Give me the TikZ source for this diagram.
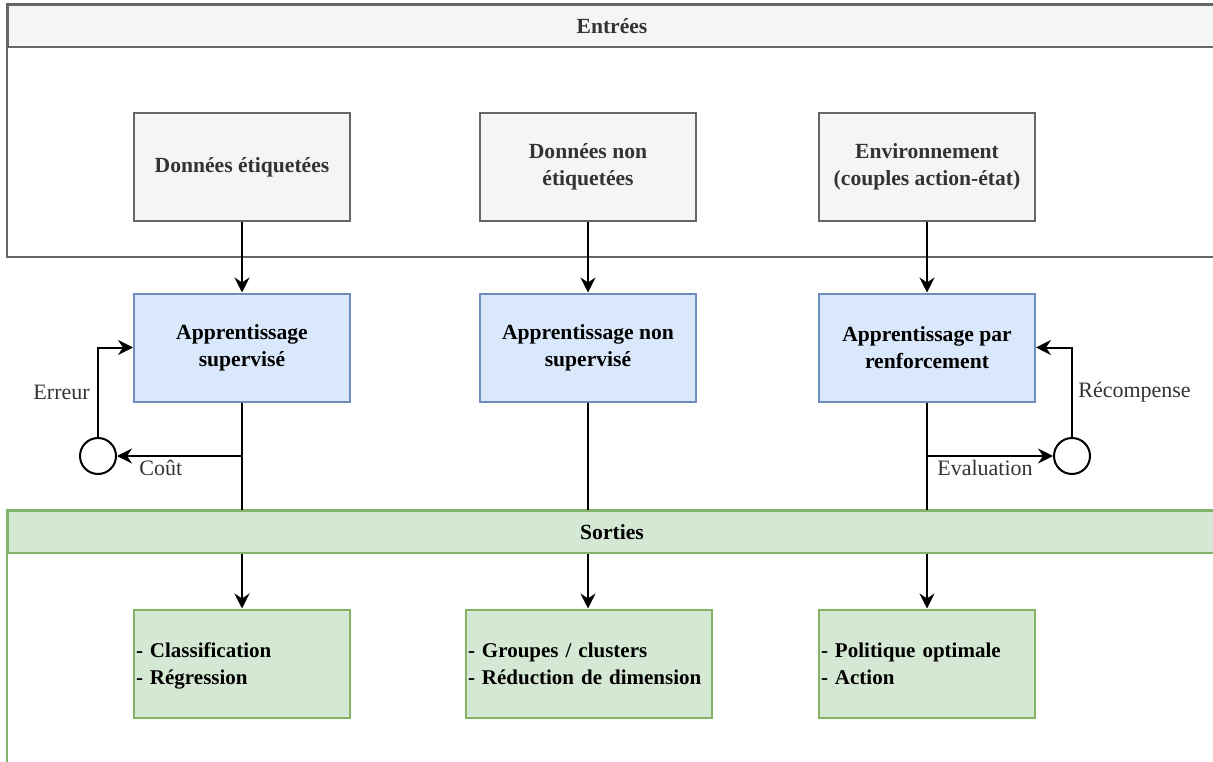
\documentclass[tikz,border=0pt]{standalone}
\usepackage{fontspec}
\setmainfont{Liberation Serif}
\usepackage{xcolor}
\definecolor{GrayFill}{HTML}{F5F5F5}
\definecolor{GrayLine}{HTML}{666666}
\definecolor{BlueFill}{HTML}{DAE8FC}
\definecolor{BlueLine}{HTML}{6C8EBF}
\definecolor{GreenFill}{HTML}{D5E8D4}
\definecolor{GreenLine}{HTML}{82B366}
\definecolor{DarkText}{HTML}{333333}
\usetikzlibrary{arrows.meta}

\begin{document}
\begin{tikzpicture}[x=1pt,y=-1pt,
  box/.style={draw,line width=2pt,minimum width=216pt,minimum height=108pt,align=center,font=\bfseries\fontsize{21.6}{27}\selectfont},
  inbox/.style={box,draw=GrayLine,fill=GrayFill,text=DarkText},
  learnbox/.style={box,draw=BlueLine,fill=BlueFill},
  outbox/.style={box,draw=GreenLine,fill=GreenFill,align=left,inner xsep=2pt,text depth=27pt,font=\bfseries\fontsize{21}{27}\selectfont},
  lanehead/.style={draw,line width=2pt,minimum width=1208pt,minimum height=42pt,anchor=north west,font=\bfseries\fontsize{21.6}{27}\selectfont},
  sumnode/.style={circle,draw,line width=2pt,fill=white,minimum size=36pt,inner sep=0pt},
  link/.style={line width=2pt,-{Stealth[length=15pt,width=15pt,inset=5pt]}},
  lbl/.style={text=DarkText,font=\fontsize{22}{26}\selectfont}]

\useasboundingbox (0,0) rectangle (1213,762);
\clip (0,0) rectangle (1213,762);

\draw[GrayLine,line width=2pt] (7,4) rectangle (1215,257);
\node[lanehead,draw=GrayLine,fill=GrayFill,text=DarkText] (entrees) at (7,4) {Entrées};

\node[inbox] (dlab) at (242,167) {Données étiquetées};
\node[inbox] (dnolab) at (588,167) {Données non\\étiquetées};
\node[inbox] (env) at (927,167) {Environnement\\(couples action-état)};

\node[learnbox] (sup) at (242,347.5) {Apprentissage\\supervisé};
\node[learnbox] (nonsup) at (588,347.5) {Apprentissage non\\supervisé};
\node[learnbox] (renf) at (927,347.5) {Apprentissage par\\renforcement};

\node[outbox,text width=212pt] (outsup) at (242,663.5) {- Classification\\- Régression};
\node[outbox,text width=242pt] (outnonsup) at (589,663.5) {- Groupes / clusters\\- Réduction de dimension};
\node[outbox,text width=212pt] (outrenf) at (927,663.5) {- Politique optimale\\- Action};

\node[sumnode] (err) at (98,456) {};
\node[sumnode] (rec) at (1072,456) {};
\coordinate (jsup) at (242,456);
\coordinate (jrenf) at (927,456);

\draw[GreenLine,line width=2pt] (7,510) rectangle (1215,800);

\draw[link] (dlab) -- (sup);
\draw[link] (dnolab) -- (nonsup);
\draw[link] (env) -- (renf);
\draw[link] (sup) -- (outsup);
\draw[link] (nonsup) -- (nonsup |- outnonsup.north);
\draw[link] (renf) -- (outrenf);

\draw[link] (jsup) -- node[lbl,pos=0.65,below] {Coût} (err);
\draw[link] (err) |- node[lbl,pos=0.25,left,xshift=-4pt] {Erreur} (sup);
\draw[link] (jrenf) -- node[lbl,pos=0.46,below] {Evaluation} (rec);
\draw[link] (rec) |- node[lbl,pos=0.25,right,xshift=2pt] {Récompense} (renf);

\node[lanehead,draw=GreenLine,fill=GreenFill] (sorties) at (7,510) {Sorties};
\end{tikzpicture}
\end{document}
